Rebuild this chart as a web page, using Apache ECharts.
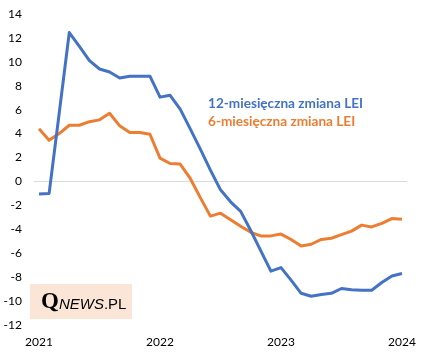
<!DOCTYPE html>
<html>
<head>
<meta charset="utf-8">
<script src="https://cdn.jsdelivr.net/npm/echarts@6/dist/echarts.min.js"></script>
<style>html,body{margin:0;padding:0;background:#fff}#c{width:427px;height:356px}</style>
</head>
<body>
<div id="c"></div>
<script>
var categories = [];
(function(){ for (var y = 2021; y <= 2024; y++) { for (var m = 1; m <= 12; m++) { if (y === 2024 && m > 1) break; categories.push(y + '-' + (m < 10 ? '0' + m : m)); } } })();
var xTickLabels = ['2021', '2022', '2023', '2024'];
var seriesNames = ['12-miesięczna zmiana LEI', '6-miesięczna zmiana LEI'];
var lei12 = [-1.05, -1.0, 5.7, 12.45, 11.3, 10.1, 9.4, 9.15, 8.65, 8.8, 8.8, 8.8,
             7.05, 7.2, 6.05, 4.4, 2.7, 0.95, -0.7, -1.7, -2.5, -4.1, -5.8, -7.5,
             -7.2, -8.25, -9.35, -9.6, -9.45, -9.35, -8.95, -9.05, -9.1, -9.1, -8.45, -7.9,
             -7.7];
var lei6 = [4.4, 3.45, 4.0, 4.7, 4.7, 5.0, 5.15, 5.7, 4.65, 4.1, 4.1, 3.95,
            1.95, 1.5, 1.45, 0.25, -1.35, -2.9, -2.65, -3.2, -3.75, -4.25, -4.55, -4.55,
            -4.4, -4.85, -5.4, -5.25, -4.85, -4.75, -4.45, -4.15, -3.65, -3.8, -3.5, -3.1,
            -3.15];
var yTicks = [-12, -10, -8, -6, -4, -2, 0, 2, 4, 6, 8, 10, 12, 14];

var FONT = 'Lato, "Liberation Sans", sans-serif';
var chart = echarts.init(document.getElementById('c'), null, {renderer: 'canvas'});
chart.setOption({
  animation: false,
  backgroundColor: '#ffffff',
  grid: {left: 34, right: 20, top: 14, bottom: 31, containLabel: false},
  legend: {
    orient: 'vertical', left: 198, top: 92, icon: 'none', itemWidth: 0, itemHeight: 10, itemGap: 4,
    selectedMode: false,
    data: seriesNames,
    textStyle: {color: 'inherit', fontFamily: FONT, fontSize: 13.6, fontWeight: 'bold', padding: 0}
  },
  xAxis: {
    type: 'category', data: categories, boundaryGap: true,
    axisLine: {show: false}, axisTick: {show: false},
    axisLabel: {
      interval: 11, margin: 11, color: '#000', fontFamily: FONT, fontSize: 12,
      formatter: function (v, i) { return xTickLabels[Math.round(i / 12)]; }
    },
    splitLine: {show: false}
  },
  yAxis: {
    type: 'value', min: yTicks[0], max: yTicks[yTicks.length - 1], interval: 2,
    axisLine: {show: false}, axisTick: {show: false}, splitLine: {show: false},
    axisLabel: {margin: 12, color: '#000', fontFamily: FONT, fontSize: 12}
  },
  series: [
    {
      name: seriesNames[0], type: 'line', data: lei12, symbol: 'none', smooth: false,
      itemStyle: {color: '#4472c4'}, lineStyle: {color: '#4472c4', width: 3, join: 'round'}, z: 3,
      markLine: {
        silent: true, symbol: 'none', label: {show: false},
        lineStyle: {color: '#d9d9d9', width: 1, type: 'solid'},
        data: [{yAxis: 0}], z: 1
      }
    },
    {
      name: seriesNames[1], type: 'line', data: lei6, symbol: 'none', smooth: false,
      itemStyle: {color: '#ed7d31'}, lineStyle: {color: '#ed7d31', width: 3, join: 'round'}, z: 2
    }
  ],
  graphic: [
    {type: 'rect', left: 30, top: 284, shape: {width: 102, height: 35}, style: {fill: '#fbe5d6'}, z: 0},
    {
      type: 'text', left: 41, top: 291, z: 5,
      style: {
        text: '{q|Q}{n|NEWS}{p|.PL}',
        rich: {
          q: {fontFamily: '"Liberation Serif", "DejaVu Serif", serif', fontSize: 23, fontWeight: 'bold', fill: '#000'},
          n: {fontFamily: '"Liberation Sans", sans-serif', fontSize: 15, fontStyle: 'italic', fill: '#000', padding: [4, 0, 0, 0]},
          p: {fontFamily: '"Liberation Sans", sans-serif', fontSize: 15, fill: '#000', padding: [4, 0, 0, 0]}
        }
      }
    }
  ]
});
</script>
</body>
</html>
